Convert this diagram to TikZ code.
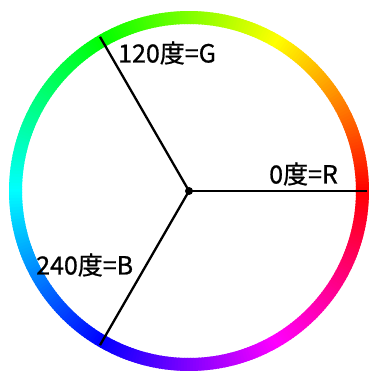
\documentclass[tikz,border=0pt]{standalone}
\usepackage{fontspec}
\setmainfont{Noto Sans CJK JP}
\newfontfamily\lblfont[FakeBold=0.8]{Noto Sans CJK JP}
\usetikzlibrary{calc}
\begin{document}
\begin{tikzpicture}[x=1pt,y=1pt,
  spoke/.style={line width=2.3pt,black},
  lbl/.style={inner sep=0pt,font=\lblfont\fontsize{25}{30}\selectfont}]
\useasboundingbox (0,0) rectangle (371,374);
\fill[white] (0,0) rectangle (371,374);
% hue ring
\foreach \a in {0,...,359}{
  \pgfmathsetmacro{\sa}{\a-0.7}
  \pgfmathsetmacro{\ea}{\a+0.7}
  \definecolor{hc}{Hsb}{\a,1,1}
  \fill[hc,shift={(189,183)}] (\sa:180) arc[start angle=\sa,end angle=\ea,radius=180]
     -- (\ea:167) arc[start angle=\ea,end angle=\sa,radius=167] -- cycle;
}
\node[circle,fill=black,inner sep=0pt,minimum size=8pt] (O) at (189,183) {};
\coordinate (R) at ($(189,183)+(0:178)$);
\coordinate (G) at ($(189,183)+(120:178)$);
\coordinate (B) at ($(189,183)+(240:178)$);
\draw[spoke] (O.center) -- (R);
\draw[spoke] (O.center) -- (G);
\draw[spoke] (O.center) -- (B);
\node[lbl,anchor=west] (lR) at (269,200) {0度=R};
\node[lbl,anchor=west] (lG) at (118,321) {120度=G};
\node[lbl,anchor=west] (lB) at (36,109) {240度=B};
\end{tikzpicture}
\end{document}
